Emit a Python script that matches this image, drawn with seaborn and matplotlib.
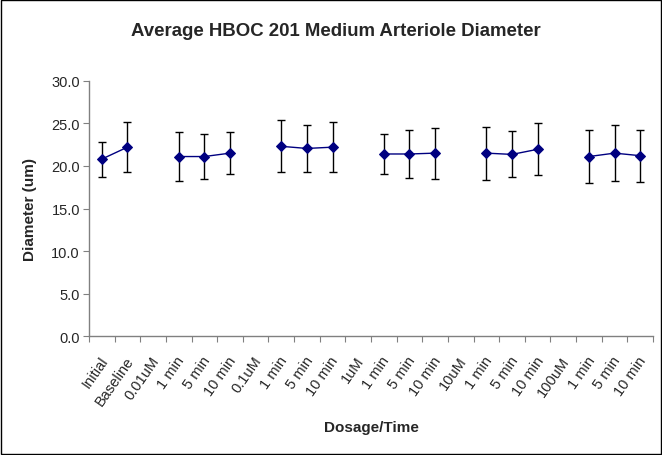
import numpy as np
import pandas as pd
import matplotlib
matplotlib.use("Agg")
import matplotlib.pyplot as plt
from matplotlib.patches import Rectangle
from matplotlib.transforms import ScaledTranslation
import seaborn as sns

# data
categories = ["Initial", "Baseline", "0.01uM", "1 min", "5 min", "10 min",
              "0.1uM", "1 min", "5 min", "10 min", "1uM", "1 min", "5 min", "10 min",
              "10uM", "1 min", "5 min", "10 min", "100uM", "1 min", "5 min", "10 min"]
mean_diam = [20.8, 22.2, np.nan, 21.1, 21.1, 21.5,
             np.nan, 22.3, 22.05, 22.2, np.nan, 21.4, 21.4, 21.5,
             np.nan, 21.5, 21.35, 21.95, np.nan, 21.1, 21.5, 21.2]
sd_diam = [2.05, 2.9, np.nan, 2.9, 2.6, 2.5,
           np.nan, 3.05, 2.75, 2.9, np.nan, 2.3, 2.8, 3.0,
           np.nan, 3.1, 2.7, 3.05, np.nan, 3.15, 3.3, 3.05]

sns.set_style("white")
plt.rcParams['font.family'] = ['Liberation Sans', 'DejaVu Sans']

df = pd.DataFrame({"x": np.arange(len(categories)), "diam": mean_diam, "sd": sd_diam})
# segment id so the line breaks at each dosage label
df["seg"] = df["diam"].isna().cumsum()
pts = df.dropna()

fig = plt.figure(figsize=(6.62, 4.56), dpi=100)
ax = fig.add_axes([0.1344, 0.2603, 0.852, 0.5605])

ax.errorbar(pts["x"], pts["diam"], yerr=pts["sd"], fmt="none", ecolor="black",
            elinewidth=1, capsize=3, capthick=1, zorder=2)
sns.lineplot(data=pts, x="x", y="diam", units="seg", estimator=None, color="#000080",
             marker="D", markersize=5.5, markeredgecolor="#000080", linewidth=1,
             ax=ax, zorder=3)

ax.set_xlim(-0.5, len(categories) - 0.5)
ax.set_ylim(0, 30)
ax.set_yticks(np.arange(0, 30.1, 5))
ax.set_yticklabels([f"{v:.1f}" for v in np.arange(0, 30.1, 5)], fontsize=10.5)

# ticks between categories, labels at centers
ax.set_xticks(np.arange(-0.5, len(categories)), minor=False)
ax.set_xticklabels([])
ax.set_xticks(np.arange(len(categories)), minor=True)
ax.set_xticklabels(categories, minor=True, rotation=55, ha="right", va="center",
                   rotation_mode="anchor", fontsize=10.5)
ax.tick_params(axis="x", which="major", direction="out", length=4, color="#808080", bottom=True)
ax.tick_params(axis="x", which="minor", length=0, pad=0)
ax.tick_params(axis="y", direction="out", length=4.5, color="#808080", left=True, pad=2)
shift = ScaledTranslation(3 / 100, -21 / 100, fig.dpi_scale_trans)
for lab in ax.get_xticklabels(minor=True):
    lab.set_transform(lab.get_transform() + shift)

for s in ["top", "right"]:
    ax.spines[s].set_visible(False)
for s in ["left", "bottom"]:
    ax.spines[s].set_color("#808080")
    ax.spines[s].set_linewidth(1)

ax.set_xlabel("")
ax.set_ylabel("")
fig.text(0.508, 0.93, "Average HBOC 201 Medium Arteriole Diameter", ha="center",
         va="center", fontsize=13.4, fontweight="bold")
fig.text(0.561, 0.061, "Dosage/Time", ha="center", va="center", fontsize=11, fontweight="bold")
fig.text(0.045, 0.54, "Diameter (um)", ha="center", va="center", rotation=90,
         fontsize=11, fontweight="bold")

fig.patches.append(Rectangle((0.001, 0.002), 0.997, 0.996, transform=fig.transFigure,
                             fill=False, edgecolor="black", linewidth=1))

fig.savefig("out.png", dpi=100)
